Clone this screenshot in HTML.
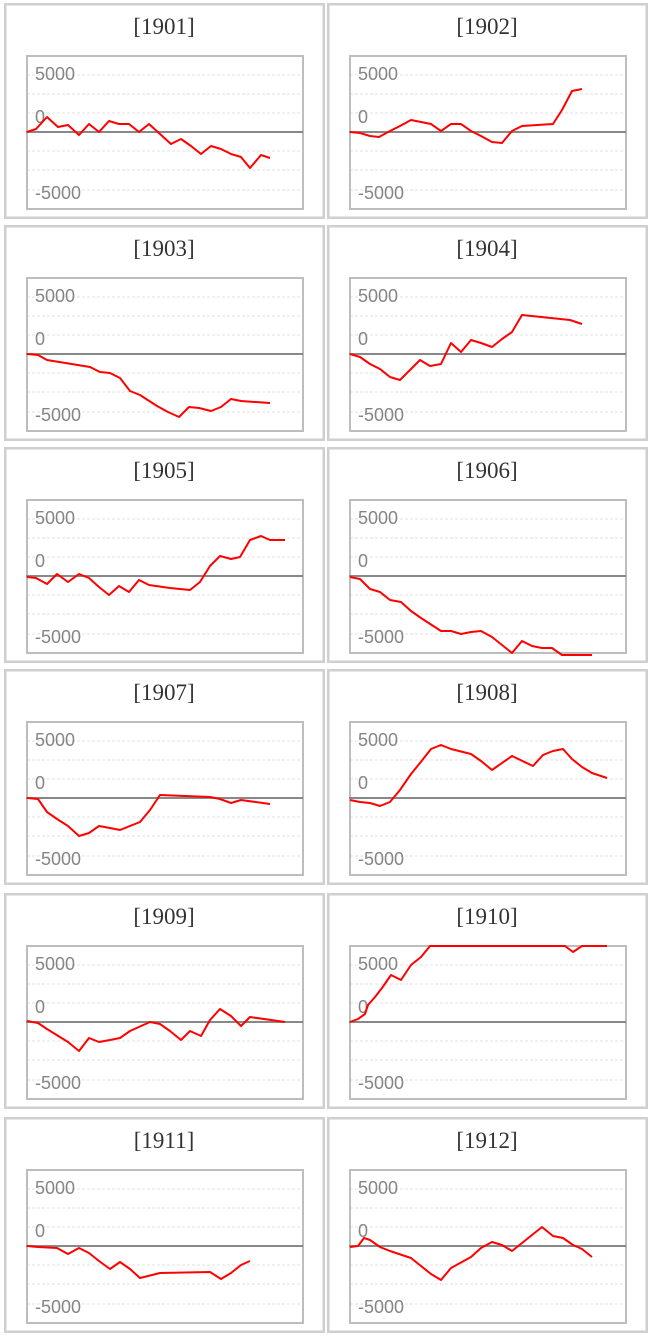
<!DOCTYPE html>
<html><head><meta charset="utf-8"><style>body{margin:0;background:#fff}svg{display:block}.l{font-family:"Liberation Sans",sans-serif;font-size:18px;fill:#858585}.t{font-family:"Liberation Serif",serif;font-size:23px;fill:#333}</style></head><body>
<svg width="655" height="1336" xmlns="http://www.w3.org/2000/svg">
<defs>
<g id="frame">
<rect x="1.25" y="1.25" width="318.5" height="213.5" fill="#fff" stroke="#cfcfcf" stroke-width="2.5"/>
<g stroke="#e0e0e0" stroke-width="1" stroke-dasharray="3,2">
<line x1="23" x2="299" y1="72" y2="72"/><line x1="23" x2="299" y1="91" y2="91"/><line x1="23" x2="299" y1="110" y2="110"/>
<line x1="23" x2="299" y1="148" y2="148"/><line x1="23" x2="299" y1="167" y2="167"/><line x1="23" x2="299" y1="187" y2="187"/>
</g>
<rect x="23" y="53" width="276" height="153" fill="none" stroke="#bdbdbd" stroke-width="2"/>
<line x1="22" x2="299" y1="129" y2="129" stroke="#888" stroke-width="2"/>
</g>
</defs>
<g transform="translate(4,3)"><use href="#frame"/><text class="l" x="31" y="77">5000</text><text class="l" x="31" y="120">0</text><text class="l" x="31" y="196">-5000</text><text class="t" x="160" y="31" text-anchor="middle">[1901]</text></g>
<g transform="translate(327,3)"><use href="#frame"/><text class="l" x="31" y="77">5000</text><text class="l" x="31" y="120">0</text><text class="l" x="31" y="196">-5000</text><text class="t" x="160" y="31" text-anchor="middle">[1902]</text></g>
<g transform="translate(4,225)"><use href="#frame"/><text class="l" x="31" y="77">5000</text><text class="l" x="31" y="120">0</text><text class="l" x="31" y="196">-5000</text><text class="t" x="160" y="31" text-anchor="middle">[1903]</text></g>
<g transform="translate(327,225)"><use href="#frame"/><text class="l" x="31" y="77">5000</text><text class="l" x="31" y="120">0</text><text class="l" x="31" y="196">-5000</text><text class="t" x="160" y="31" text-anchor="middle">[1904]</text></g>
<g transform="translate(4,447)"><use href="#frame"/><text class="l" x="31" y="77">5000</text><text class="l" x="31" y="120">0</text><text class="l" x="31" y="196">-5000</text><text class="t" x="160" y="31" text-anchor="middle">[1905]</text></g>
<g transform="translate(327,447)"><use href="#frame"/><text class="l" x="31" y="77">5000</text><text class="l" x="31" y="120">0</text><text class="l" x="31" y="196">-5000</text><text class="t" x="160" y="31" text-anchor="middle">[1906]</text></g>
<g transform="translate(4,669)"><use href="#frame"/><text class="l" x="31" y="77">5000</text><text class="l" x="31" y="120">0</text><text class="l" x="31" y="196">-5000</text><text class="t" x="160" y="31" text-anchor="middle">[1907]</text></g>
<g transform="translate(327,669)"><use href="#frame"/><text class="l" x="31" y="77">5000</text><text class="l" x="31" y="120">0</text><text class="l" x="31" y="196">-5000</text><text class="t" x="160" y="31" text-anchor="middle">[1908]</text></g>
<g transform="translate(4,893)"><use href="#frame"/><text class="l" x="31" y="77">5000</text><text class="l" x="31" y="120">0</text><text class="l" x="31" y="196">-5000</text><text class="t" x="160" y="31" text-anchor="middle">[1909]</text></g>
<g transform="translate(327,893)"><use href="#frame"/><text class="l" x="31" y="77">5000</text><text class="l" x="31" y="120">0</text><text class="l" x="31" y="196">-5000</text><text class="t" x="160" y="31" text-anchor="middle">[1910]</text></g>
<g transform="translate(4,1117)"><use href="#frame"/><text class="l" x="31" y="77">5000</text><text class="l" x="31" y="120">0</text><text class="l" x="31" y="196">-5000</text><text class="t" x="160" y="31" text-anchor="middle">[1911]</text></g>
<g transform="translate(327,1117)"><use href="#frame"/><text class="l" x="31" y="77">5000</text><text class="l" x="31" y="120">0</text><text class="l" x="31" y="196">-5000</text><text class="t" x="160" y="31" text-anchor="middle">[1912]</text></g>
<g fill="none" stroke="#f00" stroke-width="2" stroke-linejoin="round">
<polyline points="27,132 36,129 47,117 58,127 68,125 79,135 89,124 99,132 109,121 119,124 129,124 139,132 149,124 160,134 171,144 181,139 191,146 201,154 211,146 221,149 231,154 241,157 250,168 261,155 270,158"/>
<polyline points="350,132 360,133 370,136 379,137 390,131 400,126 411,120 421,122 431,124 441,131 451,124 461,124 471,131 481,136 492,142 502,143 512,131 522,126 553,124 562,110 572,91 582,89"/>
<polyline points="27,354 38,355 47,360 90,367 100,372 110,373 120,378 130,391 140,395 157,406 168,412 179,417 189,407 199,408 211,411 221,407 231,399 241,401 270,403"/>
<polyline points="350,354 360,357 370,364 380,369 390,377 400,380 410,370 420,360 430,366 441,364 451,343 461,352 471,340 481,343 492,347 502,339 512,332 522,315 570,320 582,324"/>
<polyline points="27,577 36,578 47,584 57,574 68,582 79,574 89,578 99,587 109,595 119,586 129,592 139,580 149,585 170,588 190,590 200,582 210,566 220,556 231,559 240,557 250,540 261,536 270,540 285,540"/>
<polyline points="350,577 360,579 370,589 380,592 390,600 401,602 411,611 421,618 441,631 451,631 461,634 471,632 481,631 492,637 502,645 512,653 522,641 532,646 542,648 552,648 562,655 592,655"/>
<polyline points="27,798 38,799 47,812 57,819 68,826 79,836 89,833 99,826 110,828 120,830 140,822 150,810 160,795 210,797 220,799 231,803 241,800 270,804"/>
<polyline points="350,800 360,802 370,803 380,806 390,802 400,790 411,774 420,763 431,749 441,745 451,749 471,754 481,761 492,770 512,756 533,766 543,755 553,751 563,749 572,759 582,767 592,773 607,778"/>
<polyline points="27,1021 38,1023 47,1029 68,1042 79,1051 89,1038 99,1042 110,1040 120,1038 130,1031 150,1022 160,1024 170,1031 181,1040 190,1031 201,1036 210,1020 220,1009 231,1016 241,1026 250,1017 285,1022"/>
<polyline points="350,1022 358,1019 365,1014 368,1005 375,997 382,988 391,975 401,980 411,965 421,957 430,946 565,946 573,952 582,946 607,946"/>
<polyline points="27,1246 38,1247 57,1248 68,1254 79,1248 89,1253 99,1261 110,1269 120,1262 130,1269 140,1278 160,1273 210,1272 221,1279 231,1273 241,1265 250,1261"/>
<polyline points="350,1247 358,1246 364,1238 370,1240 380,1247 390,1251 411,1258 421,1266 431,1274 441,1280 451,1268 471,1257 481,1248 492,1242 502,1245 512,1251 522,1243 542,1227 553,1236 563,1238 573,1245 582,1249 592,1257"/>
</g>
</svg>
</body></html>
